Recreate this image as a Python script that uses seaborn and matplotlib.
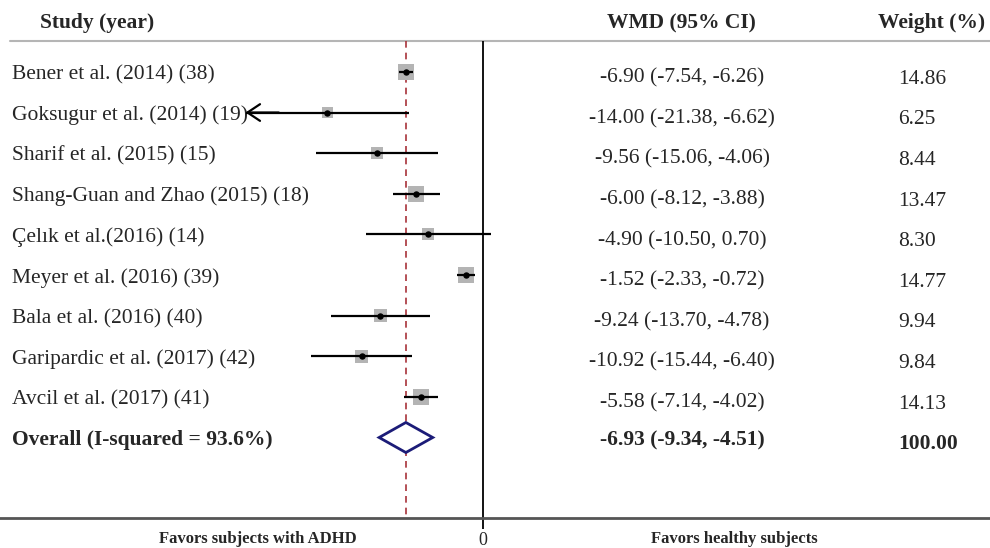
import numpy as np
import seaborn as sns
import matplotlib.pyplot as plt
import pandas as pd
from matplotlib.transforms import blended_transform_factory

studies = ["Bener et al. (2014) (38)", "Goksugur et al. (2014) (19)", "Sharif et al. (2015) (15)",
           "Shang-Guan and Zhao (2015) (18)", "Çelık et al.(2016) (14)", "Meyer et al. (2016) (39)",
           "Bala et al. (2016) (40)", "Garipardic et al. (2017) (42)", "Avcil et al. (2017) (41)"]
wmd = [-6.90, -14.00, -9.56, -6.00, -4.90, -1.52, -9.24, -10.92, -5.58]
lower = [-7.54, -21.38, -15.06, -8.12, -10.50, -2.33, -13.70, -15.44, -7.14]
upper = [-6.26, -6.62, -4.06, -3.88, 0.70, -0.72, -4.78, -6.40, -4.02]
weight = [14.86, 6.25, 8.44, 13.47, 8.30, 14.77, 9.94, 9.84, 14.13]
overall_label = "Overall (I-squared = 93.6%)"
overall = [-6.93, -9.34, -4.51]
overall_weight = 100.00

df = pd.DataFrame({"study": studies, "wmd": wmd, "lower": lower, "upper": upper,
                   "weight": weight, "row": np.arange(len(studies))})
orow = len(studies)

sns.set_theme(style="white")
plt.rcParams['font.family'] = ['Liberation Serif', 'DejaVu Serif']

fig = plt.figure(figsize=(9.9, 5.48), dpi=100)
ax = fig.add_axes([0, 0, 1, 1])
ax.set_xlim(-43.5, 45.7)
ax.set_ylim(11.72, -1.77)
tr = blended_transform_factory(ax.transAxes, ax.transData)

top, base = -0.76, 10.98

# header and reference lines
ax.plot([0.01, 1], [top, top], transform=tr, color="#b5b5b5", lw=1.5)
ax.vlines(0, top, base, color="black", lw=1.3)
ax.vlines(overall[0], top, base, color="#a8323a", lw=1.2, linestyles=(0, (4, 3)))

# study squares, sized by weight
sns.scatterplot(data=df, x="wmd", y="row", size="weight", sizes=(55, 140),
                size_norm=(6.25, 14.86), marker="s", color="#b4b4b4",
                edgecolor="none", legend=False, ax=ax, zorder=3)

# confidence intervals
for _, r in df.iterrows():
    ax.hlines(r["row"], r["lower"], r["upper"], color="black", lw=1.6, zorder=4)
    if r["study"].startswith("Goksugur"):
        ax.annotate("", xy=(r["lower"], r["row"]), xytext=(r["lower"] + 3, r["row"]),
                    arrowprops=dict(arrowstyle="->,head_length=0.75,head_width=0.5",
                                    color="black", lw=1.6, shrinkA=0, shrinkB=0), zorder=4)

ax.scatter(df["wmd"], df["row"], s=13, color="black", zorder=5)

# pooled diamond
ax.fill([overall[1], overall[0], overall[2], overall[0], overall[1]],
        [orow, orow - 0.37, orow, orow + 0.37, orow],
        facecolor="white", edgecolor="#1c1c78", lw=2, zorder=5)

# text columns
fs = 15.5
hy = -1.2
ax.text(0.040, hy, "Study (year)", transform=tr, fontsize=fs, fontweight="bold", va="center")
ax.text(0.688, hy, "WMD (95% CI)", transform=tr, fontsize=fs, fontweight="bold",
        va="center", ha="center")
ax.text(0.995, hy, "Weight (%)", transform=tr, fontsize=fs, fontweight="bold",
        va="center", ha="right")
for i, s in enumerate(studies):
    ax.text(0.012, i + 0.07, s, transform=tr, fontsize=fs, va="center")
    ax.text(0.689, i + 0.15, f"{wmd[i]:.2f} ({lower[i]:.2f}, {upper[i]:.2f})", transform=tr,
            fontsize=fs, va="center", ha="center")
    ax.text(0.907, i + 0.18, f"{weight[i]:.2f}", transform=tr, fontsize=fs, va="center")
ax.text(0.012, orow + 0.07, overall_label, transform=tr, fontsize=fs, fontweight="bold",
        va="center")
ax.text(0.689, orow + 0.08, f"{overall[0]:.2f} ({overall[1]:.2f}, {overall[2]:.2f})",
        transform=tr, fontsize=fs, fontweight="bold", va="center", ha="center")
ax.text(0.907, orow + 0.15, f"{overall_weight:.2f}", transform=tr, fontsize=fs,
        fontweight="bold", va="center")

# bottom axis
for side in ["top", "right", "left"]:
    ax.spines[side].set_visible(False)
ax.spines["bottom"].set_position(("data", base))
ax.spines["bottom"].set_color("#555555")
ax.spines["bottom"].set_linewidth(2)
ax.set_xticks([0])
ax.set_xticklabels(["0"], fontsize=13)
ax.tick_params(axis="x", bottom=True, length=8, width=1.3, color="black", pad=2, direction="out")
ax.set_yticks([])
ax.set_xlabel("")
ax.set_ylabel("")
ax.text(0.26, 11.5, "Favors subjects with ADHD", transform=tr, fontsize=12,
        fontweight="bold", va="center", ha="center")
ax.text(0.742, 11.5, "Favors healthy subjects", transform=tr, fontsize=12,
        fontweight="bold", va="center", ha="center")

fig.savefig("out.png", dpi=100)
